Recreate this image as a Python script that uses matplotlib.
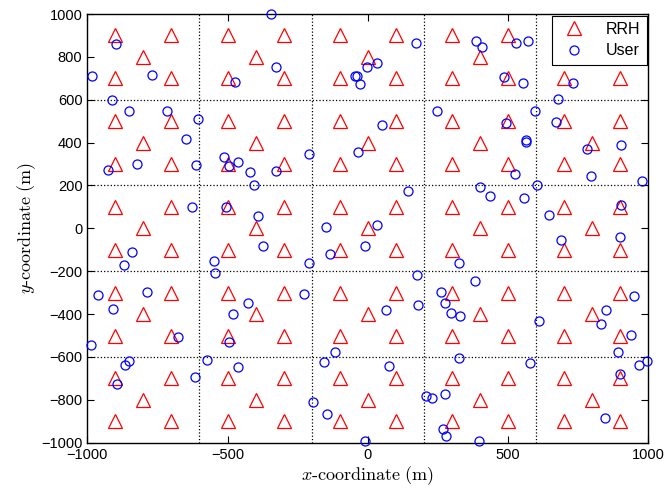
import numpy as np
import matplotlib
matplotlib.use('Agg')
import matplotlib.pyplot as plt

plt.rcParams['font.family'] = ['Liberation Sans', 'DejaVu Sans']
plt.rcParams['mathtext.fontset'] = 'cm'

# RRH layout: 25 square cells, each with a centre RRH and four around it
cell_centres = [-800, -400, 0, 400, 800]
rrh_offsets_x = [0, -100, 100, -100, 100]
rrh_offsets_y = [0, 100, 100, -100, -100]

rrh_x = []
rrh_y = []
for cx in cell_centres:
    for cy in cell_centres:
        for dx, dy in zip(rrh_offsets_x, rrh_offsets_y):
            rrh_x.append(cx + dx)
            rrh_y.append(cy + dy)

# user positions
user_x = [-346, -898, -984, -770, -472, -328, -911, -851, -717, -605,
          -647, -513, 172, -4, 34, -46, -37, -27, 246, 52,
          -210, -34, 385, 408, 527, 572, 484, 554, 730, 677,
          596, 492, 672, 565, 563, 781, 902, -925, -822, -612,
          -496, -463, -420, -405, -328, -628, -507, -390, -375, -840,
          -868, -548, -545, -961, -787, 144, -149, 33, -9, -135,
          -209, 324, 175, -229, 261, 525, 795, 976, 401, 435,
          603, 556, 902, 647, 690, 900, 382, 950, -907, -480,
          -428, -675, -987, -495, -852, -867, -572, -462, -615, -893,
          65, 179, 274, 296, 330, -117, -157, 77, 326, 209,
          229, 274, -194, -147, 267, 279, -10, 849, 832, 611,
          938, 892, 578, 968, 996, 899, 846, 395]
user_y = [998, 861, 712, 715, 684, 751, 600, 546, 547, 510,
          415, 334, 866, 754, 771, 711, 709, 673, 549, 481,
          346, 357, 875, 846, 866, 875, 705, 677, 678, 605,
          549, 490, 496, 412, 404, 369, 390, 272, 299, 294,
          291, 309, 261, 204, 266, 99, 99, 57, -81, -109,
          -171, -151, -207, -310, -298, 173, 6, 14, -84, -121,
          -163, -160, -218, -305, -297, 253, 244, 219, 193, 151,
          202, 140, 107, 61, -53, -41, -244, -315, -378, -401,
          -347, -507, -545, -532, -621, -636, -616, -646, -694, -727,
          -383, -358, -350, -395, -409, -579, -624, -641, -604, -783,
          -793, -773, -812, -865, -935, -969, -994, -383, -447, -434,
          -498, -579, -630, -636, -618, -679, -885, -991]

grid_lines = [-600, -200, 200, 600]

fig = plt.figure(figsize=(6.7, 4.88), dpi=100)
ax = fig.add_axes([0.1303, 0.0928, 0.8373, 0.8785])

for g in grid_lines:
    ax.axvline(g, color='black', linestyle=':', linewidth=0.9, zorder=1)
    ax.axhline(g, color='black', linestyle=':', linewidth=0.9, zorder=1)

ax.plot(rrh_x, rrh_y, '^', color='red', markerfacecolor='none',
        markersize=10, markeredgewidth=0.9, label='RRH', zorder=3)
ax.plot(user_x, user_y, 'o', color='blue', markerfacecolor='none',
        markersize=6.5, markeredgewidth=0.9, label='User', zorder=4,
        clip_on=False)

ax.set_xlim(-1000, 1000)
ax.set_ylim(-1000, 1000)
ax.set_xticks([-1000, -500, 0, 500, 1000])
ax.set_yticks(np.arange(-1000, 1001, 200))
ax.set_xticklabels(['\u22121000', '\u2212500', '0', '500', '1000'])
ax.set_yticklabels(['\u22121000', '\u2212800', '\u2212600', '\u2212400', '\u2212200',
                    '0', '200', '400', '600', '800', '1000'])
ax.tick_params(direction='in', top=True, right=True, length=5,
               width=0.8, labelsize=10.5)
for s in ax.spines.values():
    s.set_linewidth(1.0)

ax.set_xlabel(r'$x\mathrm{\text{-}coordinate\ (m)}$', fontsize=13, labelpad=2)
ax.set_ylabel(r'$y\mathrm{\text{-}coordinate\ (m)}$', fontsize=13, labelpad=2)

leg = ax.legend(loc='upper right', fontsize=11.5, borderaxespad=0.1,
                fancybox=False, edgecolor='black', framealpha=1,
                handletextpad=1.0, borderpad=0.4, labelspacing=0.4)
leg.get_frame().set_linewidth(0.8)

fig.savefig('out.png', dpi=100)
